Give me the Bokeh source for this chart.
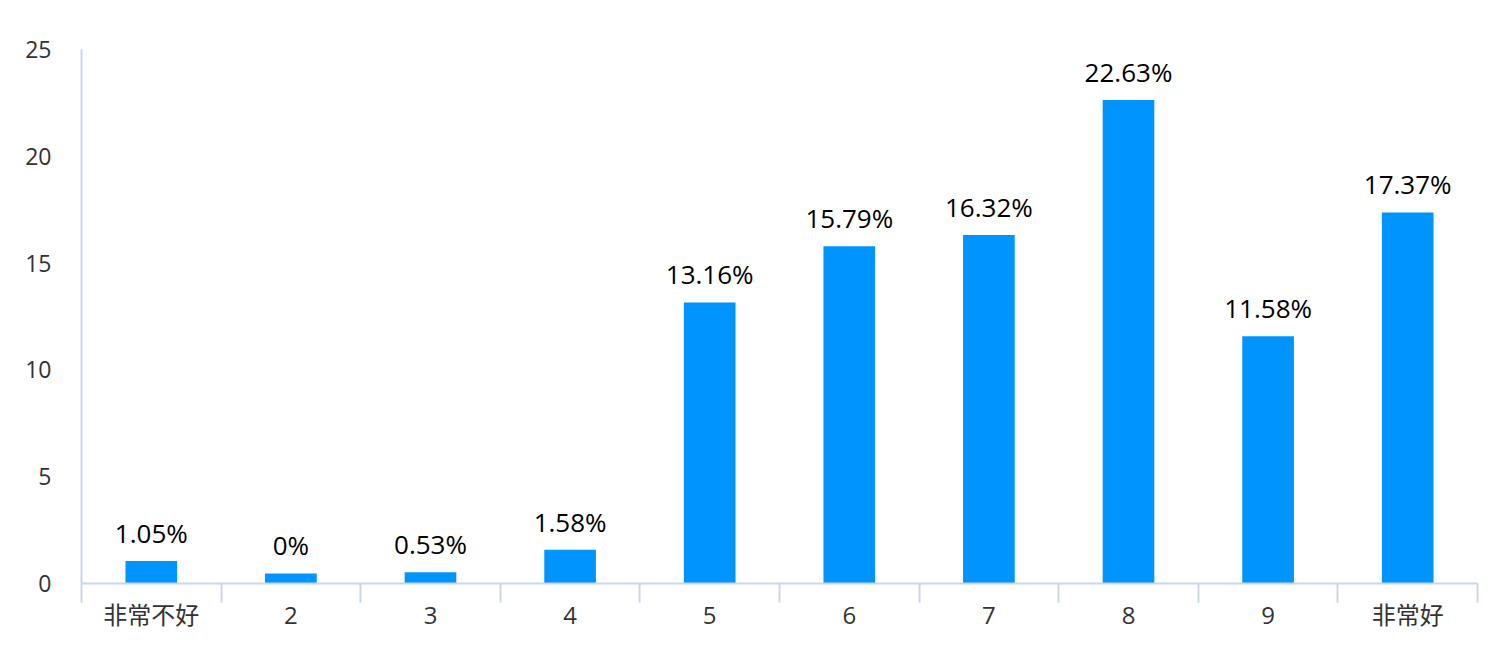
from bokeh.plotting import figure
from bokeh.models import ColumnDataSource, FixedTicker, Range1d
from bokeh.core.properties import value
from bokeh.embed import file_html
from bokeh.resources import INLINE

categories = ["非常不好", "2", "3", "4", "5", "6", "7", "8", "9", "非常好"]
percents = [1.05, 0, 0.53, 1.58, 13.16, 15.79, 16.32, 22.63, 11.58, 17.37]
y_ticks = [0, 5, 10, 15, 20, 25]

MIN_BAR = 0.47  # minimum visible bar height (like minPointLength)
FONT = "'Open Sans', 'Noto Sans CJK SC'"
AXIS_COLOR = "#ccd6eb"
BAR_COLOR = "#0094ff"

xs = [i + 0.5 for i in range(len(categories))]
tops = [max(v, MIN_BAR) for v in percents]
labels = [f"{v:g}%" for v in percents]

src = ColumnDataSource(dict(x=xs, top=tops, label=labels))

p = figure(width=1490, height=650, output_backend="svg", toolbar_location=None,
           x_range=Range1d(0, len(categories)), y_range=Range1d(0, 25),
           min_border_left=81, min_border_right=13, min_border_top=49, min_border_bottom=67)
p.outline_line_color = None
p.xgrid.visible = False
p.ygrid.visible = False

p.vbar(x="x", top="top", width=0.37, bottom=0, source=src, color=BAR_COLOR, line_color=None)
p.text(x="x", y="top", text="label", source=src, text_align="center", text_baseline="bottom",
       y_offset=-10, text_font=value(FONT), text_font_size="26px", text_color="#000000")

xa = p.xaxis[0]
xa.ticker = FixedTicker(ticks=xs, minor_ticks=list(range(len(categories) + 1)))
xa.major_label_overrides = {x: c for x, c in zip(xs, categories)}
xa.major_tick_line_color = None
xa.minor_tick_out = 19
xa.minor_tick_in = 0
xa.minor_tick_line_color = AXIS_COLOR
xa.minor_tick_line_width = 2
xa.axis_line_color = AXIS_COLOR
xa.axis_line_width = 2
xa.major_label_text_font = FONT
xa.major_label_text_font_size = "24px"
xa.major_label_text_color = "#333333"
xa.major_label_standoff = -5

ya = p.yaxis[0]
ya.ticker = FixedTicker(ticks=y_ticks)
ya.major_tick_line_color = None
ya.minor_tick_line_color = None
ya.axis_line_color = AXIS_COLOR
ya.axis_line_width = 2
ya.major_label_text_font = FONT
ya.major_label_text_font_size = "23px"
ya.major_label_text_color = "#333333"
ya.major_label_standoff = 24

open("out.html", "w").write(file_html(p, INLINE))
